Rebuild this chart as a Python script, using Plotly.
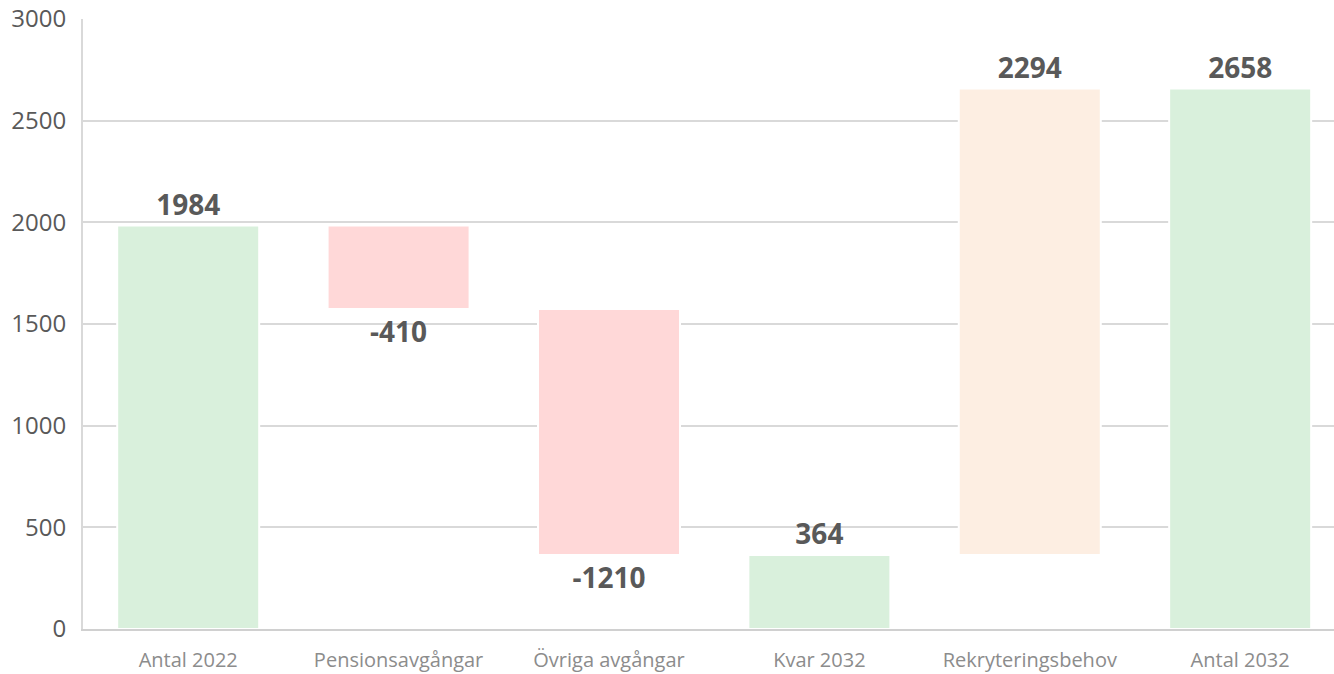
import plotly.graph_objects as go

categories = ["Antal 2022", "Pensionsavgångar", "Övriga avgångar", "Kvar 2032", "Rekryteringsbehov", "Antal 2032"]
changes = [1984, -410, -1210, 364, 2294, 2658]
kinds = ["total", "relative", "relative", "total", "relative", "total"]

GREEN = "#d9f0dc"
RED = "#ffd8d8"
ORANGE = "#fdeee2"

# compute floating bases for the waterfall
bases, colors = [], []
level = 0
for v, k in zip(changes, kinds):
    if k == "total":
        bases.append(0)
        level = v
        colors.append(GREEN)
    else:
        bases.append(level)
        level += v
        colors.append(RED if v < 0 else ORANGE)

fig = go.Figure(go.Bar(
    x=categories,
    y=changes,
    base=bases,
    marker=dict(color=colors, line=dict(color="white", width=2)),
    width=0.675,
    text=[str(v) for v in changes],
    textposition="outside",
    textfont=dict(family="Open Sans", size=28, color="#595959", weight="bold"),
    cliponaxis=False,
))

fig.update_layout(
    width=1334, height=674,
    margin=dict(l=83, r=0, t=19, b=45),
    paper_bgcolor="white", plot_bgcolor="white",
    showlegend=False,
    font=dict(family="Open Sans"),
)
fig.update_yaxes(
    range=[0, 3000], tickvals=[0, 500, 1000, 1500, 2000, 2500, 3000],
    showgrid=True, gridcolor="#d9d9d9", gridwidth=2,
    showline=True, linecolor="#d9d9d9", linewidth=2,
    zeroline=False,
    tickfont=dict(size=24, color="#595959"),
    ticks="", ticklabelstandoff=10,
)
fig.update_xaxes(
    range=[-0.5, 5.446],
    showline=True, linecolor="#d0d0d0", linewidth=2,
    tickfont=dict(size=20, color="#8c8c8c"),
    ticks="", ticklabelstandoff=12,
)

fig.write_html("out.html")
